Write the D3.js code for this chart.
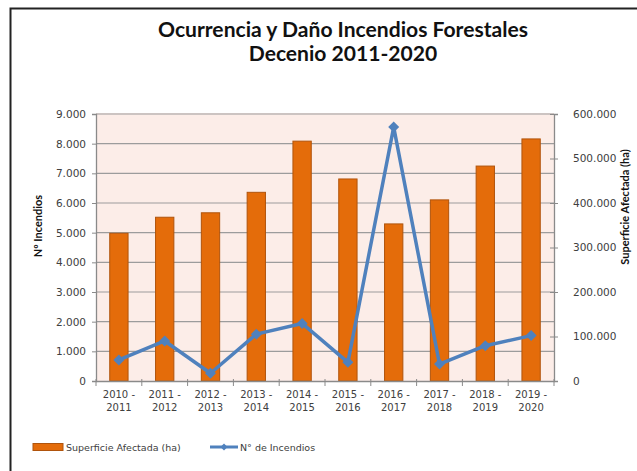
<!DOCTYPE html>
<html>
<head>
<meta charset="utf-8">
<script src="https://cdn.jsdelivr.net/npm/d3@7"></script>
<style>
  body { margin: 0; background: #fff; }
  svg { display: block; }
</style>
</head>
<body>
<div id="chart"></div>
<script>
// Data
const periods = ["2010 - 2011", "2011 - 2012", "2012 - 2013", "2013 - 2014", "2014 - 2015",
                 "2015 - 2016", "2016 - 2017", "2017 - 2018", "2018 - 2019", "2019 - 2020"];
const superficie = [332000, 368000, 378000, 424000, 539000, 454000, 353000, 407000, 483000, 544000];
const incendios = [710, 1350, 260, 1580, 1940, 630, 8560, 570, 1190, 1530];
const leftTicks = [0, 1000, 2000, 3000, 4000, 5000, 6000, 7000, 8000, 9000];
const rightTicks = [0, 100000, 200000, 300000, 400000, 500000, 600000];

const W = 637, H = 471;
const margin = { top: 114, right: 83, bottom: 90, left: 96 };
const width = W - margin.left - margin.right;
const height = H - margin.top - margin.bottom;

const es = d3.formatLocale({ decimal: ",", thousands: ".", grouping: [3], currency: ["", ""] });
const fmt = es.format(",d");

const svg = d3.select("#chart").append("svg")
  .attr("width", W)
  .attr("height", H);

// outer frame (only top and left visible)
svg.append("path")
  .attr("d", "M10.5," + (H + 5) + "V8.5H" + (W + 5))
  .attr("fill", "none")
  .attr("stroke", "#222")
  .attr("stroke-width", 2);

// title, two lines
const titleLines = ["Ocurrencia y Daño Incendios Forestales", "Decenio 2011-2020"];
const title = svg.append("g")
  .style("font-family", "Lato, 'Open Sans', sans-serif")
  .style("font-weight", "bold")
  .style("font-size", "19px")
  .attr("fill", "#111");
title.selectAll("text")
  .data(titleLines)
  .enter().append("text")
  .attr("x", 343)
  .attr("y", (d, i) => 37 + i * 24)
  .attr("text-anchor", "middle")
  .text(d => d);
// fit first line to the width seen in the picture
const t1 = title.select("text").node().getComputedTextLength();
title.style("font-size", (19 * 370 / t1).toFixed(2) + "px");

const g = svg.append("g")
  .attr("transform", "translate(" + margin.left + "," + margin.top + ")");

// scales
const x = d3.scaleBand()
  .domain(periods)
  .range([0, width])
  .paddingInner(0.6)
  .paddingOuter(0.3);

const xCat = d3.scaleBand().domain(periods).range([0, width]);

const yLeft = d3.scaleLinear().domain([0, 9000]).range([height, 0]);
const yRight = d3.scaleLinear().domain([0, 600000]).range([height, 0]);

// plot background
g.append("rect")
  .attr("x", 0).attr("y", -1)
  .attr("width", width).attr("height", height + 1)
  .attr("fill", "#fcede8");

// gridlines
g.selectAll("line.grid")
  .data(leftTicks.filter(d => d > 0))
  .enter().append("line")
  .attr("class", "grid")
  .attr("x1", 0).attr("x2", width)
  .attr("y1", d => yLeft(d)).attr("y2", d => yLeft(d))
  .attr("stroke", "#9c9c9c")
  .attr("stroke-width", 1.2);

// bars
g.selectAll(".bar")
  .data(superficie)
  .enter().append("rect")
  .attr("class", "bar")
  .attr("x", (d, i) => x(periods[i]))
  .attr("width", x.bandwidth())
  .attr("y", d => yRight(d))
  .attr("height", d => height - yRight(d))
  .attr("fill", "#e46c0a")
  .attr("stroke", "#b0540c")
  .attr("stroke-width", 1);

// line
const line = d3.line()
  .x((d, i) => xCat(periods[i]) + xCat.bandwidth() / 2)
  .y(d => yLeft(d));

g.append("path")
  .datum(incendios)
  .attr("d", line)
  .attr("fill", "none")
  .attr("stroke", "#4f81bd")
  .attr("stroke-width", 3.5)
  .attr("stroke-linejoin", "round");

const diamond = "M0,-5.5L5.5,0L0,5.5L-5.5,0Z";
g.selectAll(".marker")
  .data(incendios)
  .enter().append("path")
  .attr("class", "marker")
  .attr("d", diamond)
  .attr("transform", (d, i) => "translate(" + (xCat(periods[i]) + xCat.bandwidth() / 2) + "," + yLeft(d) + ")")
  .attr("fill", "#4f81bd");

// axes
const tickFont = "'DejaVu Sans', Verdana, sans-serif";

const leftAxis = g.append("g")
  .call(d3.axisLeft(yLeft).tickValues(leftTicks).tickSize(4).tickPadding(6).tickFormat(fmt));

const rightAxis = g.append("g")
  .attr("transform", "translate(" + width + ",0)")
  .call(d3.axisRight(yRight).tickValues(rightTicks).tickSize(4).tickPadding(15).tickFormat(fmt));
rightAxis.selectAll(".tick line").attr("x1", -4);

const xAxis = g.append("g")
  .attr("transform", "translate(0," + height + ")")
  .call(d3.axisBottom(xCat).tickSize(0).tickFormat(""));

// category boundary ticks on the x axis
xAxis.selectAll("line.bound")
  .data(periods.concat(["end"]))
  .enter().append("line")
  .attr("class", "bound")
  .attr("x1", (d, i) => i * xCat.step())
  .attr("x2", (d, i) => i * xCat.step())
  .attr("y1", -2).attr("y2", 5)
  .attr("stroke", "#8a8a8a");

[leftAxis, rightAxis, xAxis].forEach(a => {
  a.select(".domain").attr("stroke", "#8a8a8a").attr("stroke-width", 1.3);
  a.selectAll(".tick line").attr("stroke", "#8a8a8a");
  a.selectAll("text")
    .style("font-family", tickFont)
    .style("font-size", "10.5px")
    .attr("fill", "#404040");
});

// two-line category labels
const labels = g.selectAll(".xlabel")
  .data(periods)
  .enter().append("text")
  .attr("class", "xlabel")
  .attr("text-anchor", "middle")
  .style("font-family", tickFont)
  .style("font-size", "10px")
  .attr("fill", "#404040");
labels.append("tspan")
  .attr("x", d => xCat(d) + xCat.bandwidth() / 2)
  .attr("y", height + 17)
  .text(d => d.split(" - ")[0] + " -");
labels.append("tspan")
  .attr("x", d => xCat(d) + xCat.bandwidth() / 2)
  .attr("y", height + 30)
  .text(d => d.split(" - ")[1]);

// axis titles
svg.append("text")
  .attr("transform", "translate(42,226) rotate(-90)")
  .attr("text-anchor", "middle")
  .style("font-family", "Lato, sans-serif")
  .style("font-weight", "bold")
  .style("font-size", "11px")
  .attr("fill", "#111")
  .text("Nº Incendios");

svg.append("text")
  .attr("transform", "translate(629,207) rotate(-90)")
  .attr("text-anchor", "middle")
  .style("font-family", "Lato, sans-serif")
  .style("font-weight", "bold")
  .style("font-size", "11px")
  .attr("fill", "#111")
  .text("Superficie  Afectada (ha)");

// legend
const lg = svg.append("g").attr("transform", "translate(0,447)");
lg.append("rect")
  .attr("x", 33).attr("y", -3.5)
  .attr("width", 30).attr("height", 7)
  .attr("fill", "#e46c0a")
  .attr("stroke", "#b0540c");
lg.append("text")
  .attr("x", 66).attr("y", 3.5)
  .style("font-family", tickFont)
  .style("font-size", "9.5px")
  .attr("fill", "#404040")
  .text("Superficie Afectada (ha)");
lg.append("line")
  .attr("x1", 210).attr("x2", 238)
  .attr("y1", 0).attr("y2", 0)
  .attr("stroke", "#4f81bd")
  .attr("stroke-width", 3);
lg.append("path")
  .attr("d", "M0,-3.5L3.5,0L0,3.5L-3.5,0Z")
  .attr("transform", "translate(224,0)")
  .attr("fill", "#4f81bd");
lg.append("text")
  .attr("x", 240).attr("y", 3.5)
  .style("font-family", tickFont)
  .style("font-size", "9.5px")
  .attr("fill", "#404040")
  .text("N° de Incendios");
</script>
</body>
</html>
